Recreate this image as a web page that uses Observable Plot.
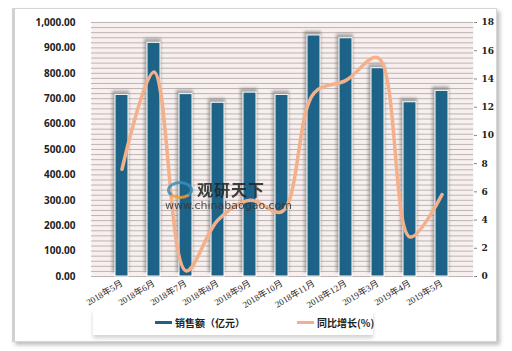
<!DOCTYPE html>
<html>
<head>
<meta charset="utf-8">
<script src="https://cdn.jsdelivr.net/npm/d3@7"></script>
<script src="https://cdn.jsdelivr.net/npm/@observablehq/plot@0.6"></script>
<style>
  html, body { margin: 0; padding: 0; background: #fff; }
  #wrap { position: relative; width: 512px; height: 351px; overflow: hidden; font-family: "Liberation Sans", "Noto Sans CJK SC", sans-serif; }
  #frame { position: absolute; left: 12px; top: 8px; width: 481px; height: 332px; background: #fff;
           border: 1px solid #d6d6d6; border-left: 3px solid #d0d0d0; box-shadow: 3px 3px 4px rgba(0,0,0,0.25); }
  #chart { position: absolute; left: 0; top: 0; }
  #legend { position: absolute; left: 93px; top: 310px; width: 280px; height: 25px; background: #fff;
            box-shadow: 0 3px 4px rgba(0,0,0,0.18); font-size: 10px; font-weight: bold; color: #222;
            font-family: "Noto Sans CJK SC", sans-serif; }
  .item { position: absolute; top: 5px; display: flex; align-items: center; white-space: nowrap; }
  .sw { display: inline-block; width: 17px; height: 3px; margin-right: 3px; }
  #wm { position: absolute; left: 163px; top: 180px; pointer-events: none; opacity: 0.85; }
  #wm .cn { position: absolute; left: 34px; top: 0px; font-size: 16px; line-height: 18px; font-weight: bold; letter-spacing: 1px; color: #222; font-family: "Noto Sans CJK SC", sans-serif; white-space: nowrap; }
  #wm .en { position: absolute; left: 2px; top: 20px; font-size: 11px; line-height: 12px; color: #333; white-space: nowrap; font-family: "DejaVu Sans", sans-serif; }
  #wm .logo { position: absolute; left: 4px; top: 1px; width: 26px; height: 18px; border-radius: 50%;
              border: 3px solid #3a8fbf; border-bottom-color: #f0a030; box-sizing: border-box; }
</style>
</head>
<body>
<div id="wrap">
  <div id="frame"></div>
  <div id="chart"></div>
  <div id="wm"><div class="logo"></div><div class="cn">观研天下</div><div class="en">www.chinabaogao.com</div></div>
  <div id="legend">
    <div class="item" style="left:62px"><span class="sw" style="background:#1c6387"></span>销售额（亿元）</div>
    <div class="item" style="left:204px"><span class="sw" style="background:#f4b08a"></span>同比增长(%)</div>
  </div>
</div>
<script>
const months = ["2018年5月","2018年6月","2018年7月","2018年8月","2018年9月","2018年10月","2018年11月","2018年12月","2019年3月","2019年4月","2019年5月"];
const sales = [715, 920, 718, 684, 724, 715, 949, 938, 820, 686, 731];
const growth = [7.6, 14.5, 0.4, 4.0, 5.4, 4.6, 13.0, 13.9, 15.5, 2.8, 5.8];
const leftTicks = d3.range(0, 1001, 100);
const rightTicks = d3.range(0, 19, 2);

const yMax = 1000, y2Max = 18;
const toLeft = v => v * yMax / y2Max;
const data = months.map((m, i) => ({month: m, sales: sales[i], growth: growth[i], g: toLeft(growth[i])}));

const chart = Plot.plot({
  width: 512,
  height: 310,
  marginLeft: 91,
  marginRight: 39,
  marginTop: 22,
  marginBottom: 34,
  style: {background: "transparent", fontSize: "10px", color: "#222"},
  x: {domain: months, padding: 0.58, label: null},
  y: {domain: [0, yMax], label: null},
  marks: [
    Plot.frame({fill: "#f8f0ef", stroke: null}),
    Plot.gridY(d3.range(0, 1001, 20), {stroke: "#a89f9f", strokeOpacity: 0.75, strokeWidth: 1}),
    Plot.barY(data, {x: "month", y: "sales", fill: "#6f6f6f", fillOpacity: 0.55, dx: -1, dy: -4, insetLeft: -2, insetRight: -2}),
    Plot.barY(data, {x: "month", y: "sales", fill: "#1c6387", stroke: "#ffffff", strokeWidth: 1}),
    Plot.line(data, {x: "month", y: "g", stroke: "#f4b08a", strokeWidth: 3.5, curve: "catmull-rom"}),
    Plot.axisY(leftTicks, {anchor: "left", tickSize: 0, tickPadding: 16, tickFormat: d3.format(",.2f"),
      fontWeight: "bold", fontSize: 10, fill: "#222", label: null}),
    Plot.axisY(rightTicks.map(toLeft), {anchor: "right", tickSize: 3, tickPadding: 5, stroke: "#888",
      tickFormat: d => String(Math.round(d * y2Max / yMax)), fontFamily: "DejaVu Serif", fontWeight: "bold", fontSize: 9, fill: "#222", label: null}),
    Plot.axisX({tickSize: 0, tickRotate: -31, tickPadding: 6, fontSize: 9, fontFamily: "Liberation Serif, Noto Sans CJK SC", fill: "#222", label: null})
  ]
});
document.getElementById("chart").appendChild(chart);

// soft blur for the bar shadows
const svg = d3.select(chart);
const defs = svg.insert("defs", ":first-child");
defs.append("filter").attr("id", "shadowBlur").attr("x", "-50%").attr("y", "-50%").attr("width", "200%").attr("height", "200%")
  .append("feGaussianBlur").attr("stdDeviation", 1.6);
const bars = chart.querySelectorAll('g[aria-label="bar"]');
if (bars.length) bars[0].setAttribute("filter", "url(#shadowBlur)");
</script>
</body>
</html>
